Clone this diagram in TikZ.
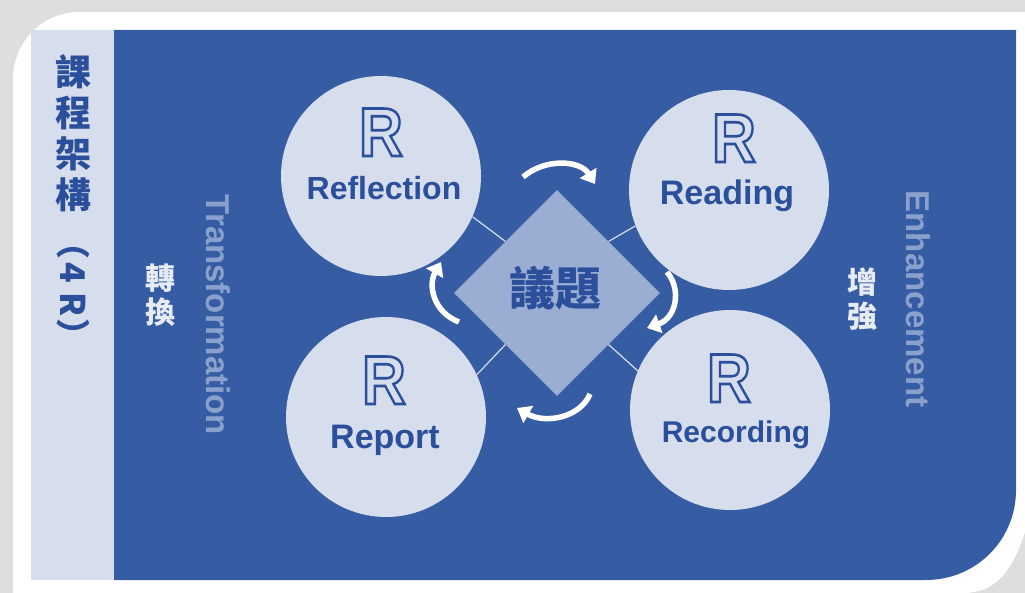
\documentclass[tikz,border=0pt]{standalone}
\usepackage{fontspec}
\setmainfont{Liberation Sans}
\newfontfamily\cjk{Noto Sans CJK TC}
\usetikzlibrary{arrows.meta,shapes.geometric}
\definecolor{bgblue}{HTML}{365DA3}
\definecolor{paleblue}{HTML}{D6DDEC}
\definecolor{topicblue}{HTML}{9AAED4}
\definecolor{inkblue}{HTML}{2B4F9B}
\definecolor{sideblue}{HTML}{8BA1CD}
\definecolor{shadowgray}{HTML}{DEDEDE}
\newcommand\hollowR{\scalebox{0.88}[1]{\special{pdf:literal direct 1 Tr 2.6 w}R\special{pdf:literal direct 0 Tr}}}
\tikzset{
  stage/.style={circle,fill=paleblue,minimum size=200pt,inner sep=0pt},
  stagename/.style={text=inkblue,anchor=base},
  bigR/.style={text=inkblue,anchor=base,font=\bfseries\fontsize{69}{69}\selectfont},
  link/.style={draw=paleblue,line width=1.2pt},
  turn/.style={draw=white,line width=5.5pt,-{Triangle[width=19pt,length=13pt]}},
  sidetext/.style={text=sideblue,font=\bfseries\fontsize{33}{33}\selectfont,rotate=-90},
  sidecjk/.style={text=paleblue!60!white,font=\cjk\bfseries\fontsize{30}{34}\selectfont,align=center},
}
\begin{document}
\begin{tikzpicture}[x=1pt,y=-1pt]
\useasboundingbox (0,0) rectangle (1025,593);
%frame
\fill[shadowgray] (0,0) rectangle (1025,593);
\fill[white] (13,593) -- (13,80) .. controls (13,42) and (42,12) .. (80,12) -- (1025,12) -- (1025,532) .. controls (1012,572) and (995,593) .. (963,593) -- cycle;
\fill[paleblue] (31,30) rectangle (114,580);
\fill[bgblue] (114,30) -- (1016,30) -- (1016,490) .. controls (1016,540) and (976,580) .. (926,580) -- (114,580) -- cycle;
%stages
\node[stage] (refl) at (381,176) {};
\node[stage] (read) at (729,190) {};
\node[stage] (recd) at (730,410) {};
\node[stage] (rept) at (386,417) {};
\node[bigR] (reflR) at (381,156) {\hollowR};
\node[bigR] (readR) at (734,162) {\hollowR};
\node[bigR] (reptR) at (384,404) {\hollowR};
\node[bigR] (recdR) at (729,402) {\hollowR};
\node[stagename,font=\bfseries\fontsize{32}{32}\selectfont] (reflT) at (384,200) {Reflection};
\node[stagename,font=\bfseries\fontsize{34}{34}\selectfont] (readT) at (727,205) {Reading};
\node[stagename,font=\bfseries\fontsize{34}{34}\selectfont] (reptT) at (385,448) {Report};
\node[stagename,font=\bfseries\fontsize{30}{30}\selectfont] (recdT) at (736,442) {Recording};
%topic
\node[diamond,fill=topicblue,minimum size=206pt,inner sep=0pt] (topic) at (557,293) {};
\node[text=inkblue,font=\cjk\bfseries\fontsize{46}{46}\selectfont] (topicT) at (555,288) {議題};
\draw[link] (refl.-24) -- (topic.north west);
\draw[link] (read.201) -- (topic.north east);
\draw[link] (recd.157) -- (topic.south east);
\draw[link] (rept.25) -- (topic.south west);
%turn arrows
\draw[turn] (523,177) .. controls (545,158) and (580,160) .. (595,184);
\draw[turn] (667,272) .. controls (682,290) and (676,318) .. (647,328);
\draw[turn] (590,394) .. controls (580,418) and (545,424) .. (517,408);
\draw[turn] (459,322) .. controls (433,312) and (428,285) .. (441,262);
%labels
\node[sidetext] (trans) at (218,315) {Transformation};
\node[sidetext] (enh) at (918,299) {Enhancement};
\node[sidecjk] (zhuan) at (160,295) {轉\\換};
\node[sidecjk] (zeng) at (862,299) {增\\強};
\node[text=inkblue,font=\cjk\bfseries\fontsize{36}{41}\selectfont,align=center] (title) at (73,133) {課\\程\\架\\構};
\node[text=inkblue,font=\cjk\bfseries\fontsize{34}{34}\selectfont,rotate=-90] (titleR) at (73,289) {（\hspace{3pt}4\hspace{9pt}R\hspace{2pt}）};
\end{tikzpicture}
\end{document}
